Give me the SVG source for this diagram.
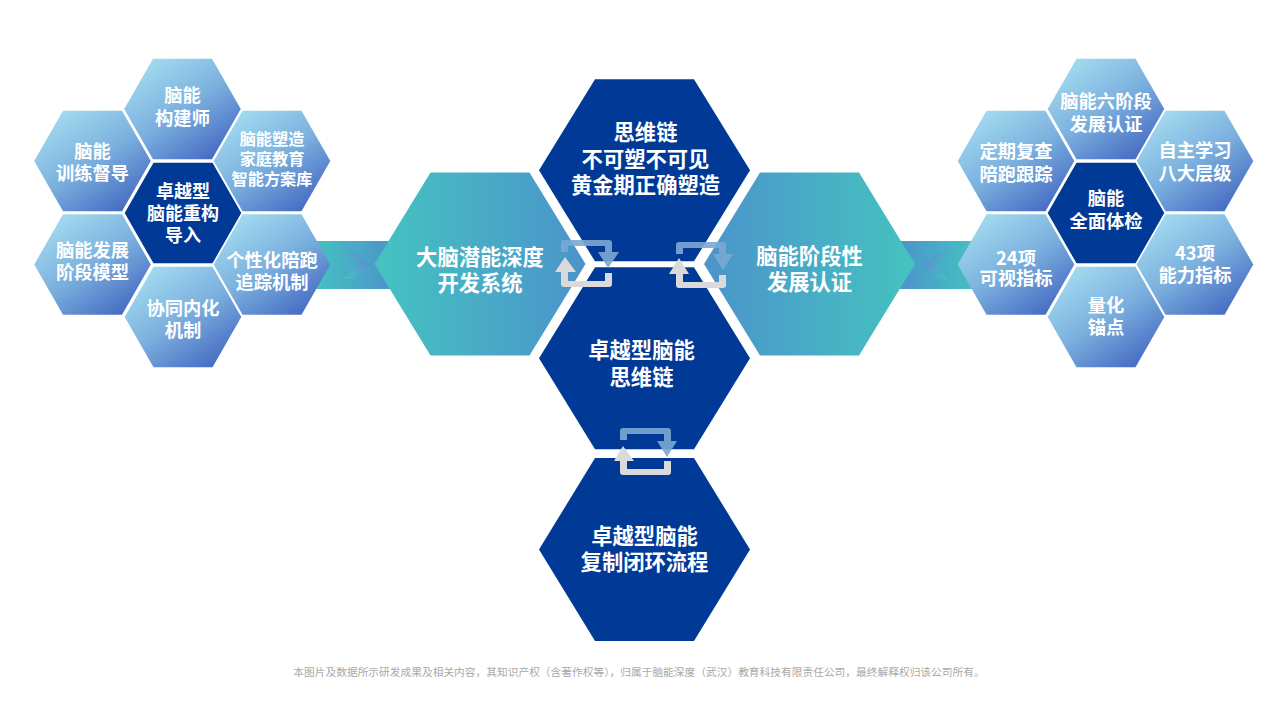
<svg xmlns="http://www.w3.org/2000/svg" xmlns:xlink="http://www.w3.org/1999/xlink" width="1280" height="720" viewBox="0 0 1280 720">
<defs>
<linearGradient id="gs" x1="0.15" y1="0.05" x2="0.85" y2="0.95"><stop offset="0" stop-color="#a3dcf0"/><stop offset="0.5" stop-color="#7bb0de"/><stop offset="1" stop-color="#4469c2"/></linearGradient>
<linearGradient id="gl" x1="0" y1="0" x2="1" y2="0"><stop offset="0" stop-color="#45c3c0"/><stop offset="1" stop-color="#4b94cb"/></linearGradient>
<linearGradient id="gr" x1="0" y1="0" x2="1" y2="0"><stop offset="0" stop-color="#4b94cb"/><stop offset="1" stop-color="#45c3c0"/></linearGradient>
<linearGradient id="cl" x1="0" y1="1" x2="1" y2="0.4"><stop offset="0" stop-color="#45c3c0"/><stop offset="1" stop-color="#5a8fd2"/></linearGradient>
<linearGradient id="cr" x1="1" y1="1" x2="0" y2="0.4"><stop offset="0" stop-color="#45c3c0"/><stop offset="1" stop-color="#5a8fd2"/></linearGradient>
<polygon id="hs" points="-29.5,-50.3 29.5,-50.3 58.3,0 29.5,50.3 -29.5,50.3 -58.3,0"/>
<polygon id="hb" points="-49.5,-91.5 49.5,-91.5 105.5,0 49.5,91.5 -49.5,91.5 -105.5,0"/>
<polygon id="hn" points="-49.5,-91 49.5,-91 105.5,0 49.5,91 -49.5,91 -105.5,0"/>
</defs>
<style>
text{font-family:"Noto Sans CJK SC","Noto Sans",sans-serif;fill:#fff;text-anchor:middle;font-weight:700}
.s{font-size:18.3px}.m{font-size:16.2px}.c{font-size:18px}.b{font-size:21.3px}
.grad{fill:url(#gs)}.dark{fill:#003a96}
.blue{fill:#7ba8d4;fill-opacity:.9}.gray{fill:#dadada}
.note{font-size:10.72px;fill:#a9a9a9;font-weight:400}
</style>
<rect width="1280" height="720" fill="#fff"/>
<g id="connectors">
<rect x="312" y="241" width="80" height="48" fill="url(#gl)"/>
<polygon points="345,252 355,252 369,264.5 355,279 344,279 358,264.5" fill="url(#cl)"/>
<rect x="898" y="241" width="80" height="48" fill="url(#gr)"/>
<polygon points="948,252 938,252 924,264.5 938,279 948,279 934,264.5" fill="url(#cr)"/>
</g>
<g id="left-cluster">
<g id="l-top" transform="translate(182.5,109)"><use href="#hs" class="grad"/><text class="s" y="-7">脑能</text><text class="s" y="16">构建师</text></g>
<g id="l-ul" transform="translate(92.5,161)"><use href="#hs" class="grad"/><text class="s" y="-3">脑能</text><text class="s" y="19">训练督导</text></g>
<g id="l-ur" transform="translate(272,161)"><use href="#hs" class="grad"/><text class="m" y="-16">脑能塑造</text><text class="m" y="4">家庭教育</text><text class="m" y="24">智能方案库</text></g>
<g id="l-center" transform="translate(183,213)"><use href="#hs" class="dark"/><text class="c" y="-15">卓越型</text><text class="c" y="7">脑能重构</text><text class="c" y="29">导入</text></g>
<g id="l-ll" transform="translate(92.5,264.5)"><use href="#hs" class="grad"/><text class="s" y="-8">脑能发展</text><text class="s" y="14">阶段模型</text></g>
<g id="l-lr" transform="translate(272,264.5)"><use href="#hs" class="grad"/><text class="s" y="2">个性化陪跑</text><text class="s" y="24">追踪机制</text></g>
<g id="l-bottom" transform="translate(183,317)"><use href="#hs" class="grad"/><text class="s" y="-2">协同内化</text><text class="s" y="20">机制</text></g>
</g>
<g id="right-cluster">
<g id="r-top" transform="translate(1106,109)"><use href="#hs" class="grad"/><text class="s" y="-1">脑能六阶段</text><text class="s" y="22">发展认证</text></g>
<g id="r-ul" transform="translate(1016,161)"><use href="#hs" class="grad"/><text class="s" y="-3">定期复查</text><text class="s" y="20">陪跑跟踪</text></g>
<g id="r-ur" transform="translate(1195,161)"><use href="#hs" class="grad"/><text class="s" y="-4">自主学习</text><text class="s" y="19">八大层级</text></g>
<g id="r-center" transform="translate(1106,213)"><use href="#hs" class="dark"/><text class="s" y="-8">脑能</text><text class="s" y="15">全面体检</text></g>
<g id="r-ll" transform="translate(1016,264.5)"><use href="#hs" class="grad"/><text class="s" y="0">24项</text><text class="s" y="20">可视指标</text></g>
<g id="r-lr" transform="translate(1195,264.5)"><use href="#hs" class="grad"/><text class="s" y="-5">43项</text><text class="s" y="17">能力指标</text></g>
<g id="r-bottom" transform="translate(1106,317)"><use href="#hs" class="grad"/><text class="s" y="-5">量化</text><text class="s" y="17">锚点</text></g>
</g>
<g id="top" transform="translate(644.5,170.3)"><use href="#hn" class="dark"/><text class="b" x="1" y="-30">思维链</text><text class="b" x="1" y="-3">不可塑不可见</text><text class="b" x="1" y="23">黄金期正确塑造</text></g>
<g id="middle" transform="translate(644.5,358.3)"><use href="#hn" class="dark"/><text class="b" x="-3" y="0">卓越型脑能</text><text class="b" x="-3" y="27">思维链</text></g>
<g id="bottom" transform="translate(644.5,549.5)"><use href="#hb" class="dark"/><text class="b" y="-6">卓越型脑能</text><text class="b" y="20">复制闭环流程</text></g>
<g id="left-main" transform="translate(480,264)"><use href="#hb" fill="url(#gl)"/><text class="b" y="1">大脑潜能深度</text><text class="b" y="27">开发系统</text></g>
<g id="right-main" transform="translate(809.5,264)"><use href="#hb" fill="url(#gr)"/><text class="b" y="0">脑能阶段性</text><text class="b" y="26">发展认证</text></g>
<g id="loops">
<path class="blue" d="M561,252V243Q561,240 564,240H609Q612,240 612,243V252H619L608,268L598,252H605V246H568V252Z"/>
<path class="gray" d="M565,257L576,272H568V281H605V273H612V284Q612,287 609,287H564Q561,287 561,284V272H555Z"/>
<path class="blue" d="M676,254V245Q676,242 679,242H723Q726,242 726,245V254H733L723,270L713,254H719V248H683V254Z"/>
<path class="gray" d="M679,258L689,274H683V282H719V275H726V285Q726,288 723,288H679Q676,288 676,285V274H669Z"/>
<path class="blue" d="M620,440V431Q620,428 623,428H668Q671,428 671,431V441H677L667,457L657,441H664V434H627V440Z"/>
<path class="gray" d="M623,446L634,461H627V469H664V461H671V472Q671,475 668,475H623Q620,475 620,472V461H614Z"/>
</g>
<text class="note" x="639" y="676">本图片及数据所示研发成果及相关内容，其知识产权（含著作权等），归属于脑能深度（武汉）教育科技有限责任公司，最终解释权归该公司所有。</text>
</svg>
